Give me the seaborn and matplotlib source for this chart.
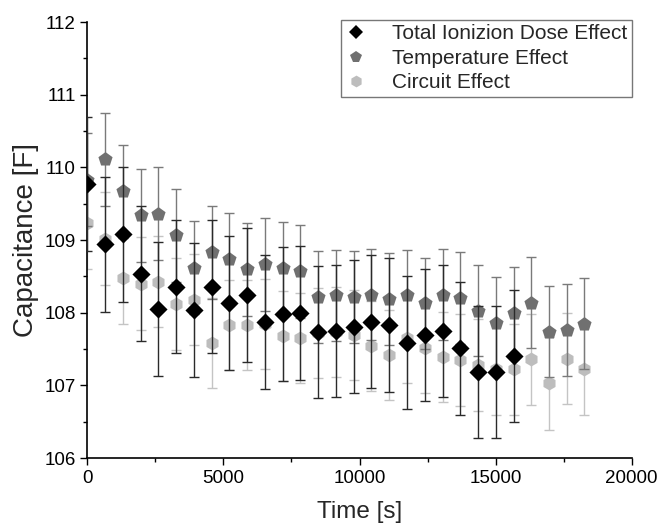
import pandas as pd
import matplotlib
matplotlib.use("Agg")
import matplotlib.pyplot as plt
import seaborn as sns

sns.set_style("ticks")
plt.rcParams["font.family"] = ["Liberation Sans", "DejaVu Sans"]

# data
time_s = [0, 650, 1300, 1960, 2610, 3260, 3910, 4570, 5220, 5870,
          6520, 7180, 7830, 8480, 9130, 9790, 10440, 11090, 11740, 12400,
          13050, 13700, 14350, 15000, 15660, 16310, 16960, 17610, 18260]

tid_cap = [109.77, 108.94, 109.08, 108.54, 108.05, 108.36, 108.04, 108.36, 108.13, 108.24,
           107.87, 107.98, 108.00, 107.74, 107.75, 107.81, 107.88, 107.83, 107.59, 107.69,
           107.75, 107.51, 107.19, 107.19, 107.41]
tid_err = [0.92, 0.93, 0.93, 0.93, 0.92, 0.92, 0.92, 0.92, 0.92, 0.92,
           0.92, 0.92, 0.92, 0.91, 0.91, 0.92, 0.92, 0.92, 0.92, 0.91,
           0.91, 0.92, 0.91, 0.91, 0.91]

temp_cap = [109.83, 110.11, 109.67, 109.34, 109.36, 109.07, 108.62, 108.83, 108.74, 108.60,
            108.67, 108.61, 108.57, 108.22, 108.24, 108.22, 108.25, 108.19, 108.24, 108.13,
            108.25, 108.20, 108.03, 107.86, 108.00, 108.14, 107.74, 107.76, 107.85]
temp_err = [0.64, 0.64, 0.64, 0.64, 0.64, 0.64, 0.64, 0.64, 0.64, 0.64,
            0.64, 0.64, 0.64, 0.63, 0.63, 0.63, 0.63, 0.63, 0.63, 0.63,
            0.63, 0.63, 0.63, 0.63, 0.63, 0.63, 0.63, 0.63, 0.63]

circ_cap = [109.23, 109.02, 108.48, 108.40, 108.43, 108.12, 108.18, 107.58, 107.83, 107.83,
            107.84, 107.68, 107.65, 107.72, 107.73, 107.70, 107.54, 107.42, 107.66, 107.51,
            107.39, 107.35, 107.28, 107.22, 107.22, 107.36, 107.03, 107.37, 107.23]
circ_err = [0.63, 0.64, 0.63, 0.64, 0.63, 0.63, 0.63, 0.62, 0.62, 0.62,
            0.62, 0.62, 0.62, 0.62, 0.62, 0.62, 0.62, 0.62, 0.62, 0.62,
            0.62, 0.63, 0.63, 0.63, 0.63, 0.63, 0.64, 0.63, 0.63]

names = ["Total Ionizion Dose Effect", "Temperature Effect", "Circuit Effect"]

df = pd.concat([
    pd.DataFrame({"Time": time_s[:len(tid_cap)], "Cap": tid_cap, "Err": tid_err, "Series": names[0]}),
    pd.DataFrame({"Time": time_s, "Cap": temp_cap, "Err": temp_err, "Series": names[1]}),
    pd.DataFrame({"Time": time_s, "Cap": circ_cap, "Err": circ_err, "Series": names[2]}),
])

marker_col = {names[0]: "#000000", names[1]: "#707070", names[2]: "#bdbdbd"}
bar_col = {names[0]: "#2a2a2a", names[1]: "#7a7a7a", names[2]: "#c4c4c4"}
markers = {names[0]: "D", names[1]: "p", names[2]: "h"}
sizes = {names[0]: 85, names[1]: 115, names[2]: 100}

fig, ax = plt.subplots(figsize=(6.72, 5.26), dpi=100)
fig.subplots_adjust(left=0.13, right=0.94, bottom=0.129, top=0.958)

# draw from back to front: circuit, temperature, TID
for i, name in enumerate(reversed(names)):
    d = df[df["Series"] == name]
    ax.errorbar(d["Time"], d["Cap"], yerr=d["Err"], fmt="none",
                ecolor=bar_col[name], elinewidth=1.0, capsize=3.8, capthick=1.0,
                zorder=2 + 2 * i)
    sns.scatterplot(data=d, x="Time", y="Cap", marker=markers[name],
                    color=marker_col[name], s=sizes[name], linewidth=0,
                    ax=ax, zorder=3 + 2 * i, legend=False)

ax.set_xlim(0, 20000)
ax.set_ylim(106, 112)
ax.set_xticks([0, 5000, 10000, 15000, 20000])
ax.set_xticks([2500, 7500, 12500, 17500], minor=True)
ax.set_yticks([106, 107, 108, 109, 110, 111, 112])
ax.set_yticks([106.5, 107.5, 108.5, 109.5, 110.5, 111.5], minor=True)
ax.tick_params(axis="both", which="major", direction="out", length=5, width=1.0,
               labelsize=13.5, color="black", labelcolor="black")
ax.tick_params(axis="both", which="minor", direction="out", length=3, width=1.0, color="black")
for side in ["left", "bottom"]:
    ax.spines[side].set_color("black")
    ax.spines[side].set_linewidth(1.2)
sns.despine(ax=ax)

ax.set_xlabel("Time [s]", fontsize=17.5, labelpad=10)
ax.set_ylabel("Capacitance [F]", fontsize=20, labelpad=4)

handles = [
    plt.Line2D([], [], linestyle="none", marker=markers[n], color=marker_col[n],
               markersize=8.5 if n != names[0] else 7.5, markeredgewidth=0)
    for n in names
]
leg = ax.legend(handles, names, loc="upper right", fontsize=15, frameon=True,
                fancybox=False, borderaxespad=0.0, handlelength=1.0,
                handletextpad=1.2, labelspacing=0.26, borderpad=0.22,
                bbox_to_anchor=(1.0, 1.005))
leg.get_frame().set_edgecolor("#555555")
leg.get_frame().set_linewidth(1.0)

fig.savefig("out.png", dpi=100)
